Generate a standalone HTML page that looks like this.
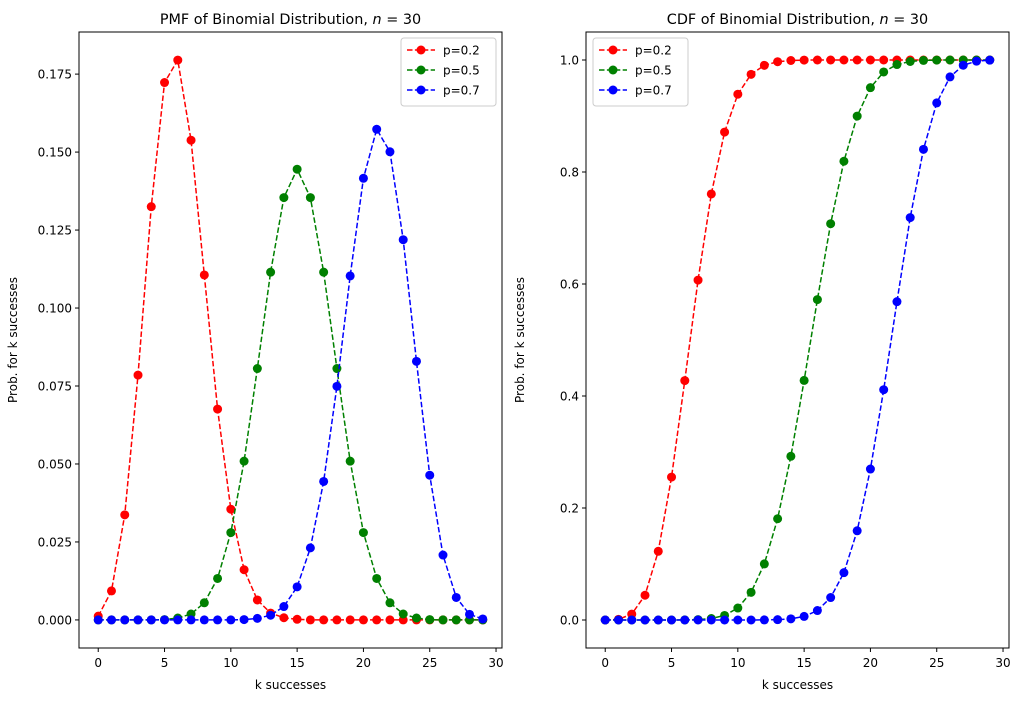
<!DOCTYPE html>
<html><head><meta charset="utf-8"><style>
body{margin:0;background:#fff;font-family:"Liberation Sans","DejaVu Sans",sans-serif;}
svg text{font-family:"DejaVu Sans","Liberation Sans",sans-serif;}
</style></head><body>
<svg id="chart" width="1022" height="701" xmlns="http://www.w3.org/2000/svg"></svg>
<script>
const ks=[0,1,2,3,4,5,6,7,8,9,10,11,12,13,14,15,16,17,18,19,20,21,22,23,24,25,26,27,28,29];
const pmf02=[0.0012,0.0093,0.0337,0.0785,0.1325,0.1723,0.1795,0.1538,0.1106,0.0676,0.0355,0.0161,0.0064,0.0022,0.0007,0.0002,0,0,0,0,0,0,0,0,0,0,0,0,0,0];
const pmf05=[0,0,0,0,0,0.0001,0.0006,0.0019,0.0055,0.0133,0.0280,0.0509,0.0806,0.1115,0.1354,0.1445,0.1354,0.1115,0.0806,0.0509,0.0280,0.0133,0.0055,0.0019,0.0006,0.0001,0,0,0,0];
const pmf07=[0,0,0,0,0,0,0,0,0,0,0,0.0001,0.0005,0.0015,0.0043,0.0106,0.0231,0.0444,0.0749,0.1103,0.1416,0.1573,0.1501,0.1219,0.0829,0.0464,0.0208,0.0072,0.0018,0.0003];
const cdf02=[0,0.0012,0.0106,0.0442,0.1227,0.2552,0.4275,0.6070,0.7608,0.8713,0.9389,0.9744,0.9905,0.9969,0.9991,0.9998,1,1,1,1,1,1,1,1,1,1,1,1,1,1];
const cdf05=[0,0,0,0,0,0,0.0002,0.0007,0.0026,0.0081,0.0214,0.0494,0.1002,0.1808,0.2923,0.4278,0.5722,0.7077,0.8192,0.8998,0.9506,0.9786,0.9919,0.9974,0.9993,0.9998,1,1,1,1];
const cdf07=[0,0,0,0,0,0,0,0,0,0,0,0,0.0002,0.0006,0.0021,0.0064,0.0169,0.0401,0.0845,0.1593,0.2696,0.4112,0.5685,0.7186,0.8405,0.9234,0.9698,0.9907,0.9979,0.9997];
const xTicks=[0,5,10,15,20,25,30];
const pmfTicks=[0,0.025,0.05,0.075,0.1,0.125,0.15,0.175];
const pmfTickLabels=["0.000","0.025","0.050","0.075","0.100","0.125","0.150","0.175"];
const cdfTicks=[0,0.2,0.4,0.6,0.8,1.0];
const cdfTickLabels=["0.0","0.2","0.4","0.6","0.8","1.0"];
const seriesLabels=["p=0.2","p=0.5","p=0.7"];
const colors=["#ff0000","#008000","#0000ff"];

const svg=document.getElementById('chart');
const NS="http://www.w3.org/2000/svg";
function mk(tag,attrs,parent){const e=document.createElementNS(NS,tag);for(const k in attrs)e.setAttribute(k,attrs[k]);(parent||svg).appendChild(e);return e;}

function panel(name,left,right,ymin,ymax,yTicks,yLabels,series,title,legendX,legendAnchorRight){
  const top=32,bottom=648;
  const g=mk('g',{});
  
  
  const xmin=-1.45,xmax=30.45;
  const X=v=>left+(v-xmin)/(xmax-xmin)*(right-left);
  const Y=v=>bottom-(v-ymin)/(ymax-ymin)*(bottom-top);
  // series
  series.forEach((s,i)=>{
    const pts=ks.map((k,j)=>X(k)+','+Y(s[j])).join(' ');
    const l=mk('polyline',{points:pts,fill:'none',stroke:colors[i],'stroke-width':1.5,'stroke-dasharray':'5.5,2.4'},g);
    
    
    ks.forEach((k,j)=>{
      const c=mk('circle',{cx:X(k),cy:Y(s[j]),r:4.5,fill:colors[i]},g);
      
      
    });
  });
  const fr=mk('rect',{x:left,y:top,width:right-left,height:bottom-top,fill:'none',stroke:'#000','stroke-width':1},g);
  
  
  xTicks.forEach(t=>{
    mk('line',{x1:X(t),x2:X(t),y1:bottom,y2:bottom+4,stroke:'#000'},g);
    const tx=mk('text',{x:X(t),y:bottom+19,'text-anchor':'middle','font-size':12},g);
    tx.textContent=t;
    
    
  });
  yTicks.forEach((t,i)=>{
    mk('line',{x1:left-4,x2:left,y1:Y(t),y2:Y(t),stroke:'#000'},g);
    const tx=mk('text',{x:left-7,y:Y(t)+4.5,'text-anchor':'end','font-size':12},g);
    tx.textContent=yLabels[i];
    
    
  });
  const xt=mk('text',{x:(left+right)/2,y:689,'text-anchor':'middle','font-size':12},g);
  xt.textContent='k successes';
  
  
  const yt=mk('text',{x:0,y:0,'text-anchor':'middle','font-size':12,transform:`translate(${left-62},${(top+bottom)/2}) rotate(-90)`},g);
  yt.textContent='Prob. for k successes';
  
  
  const tt=mk('text',{x:(left+right)/2,y:24,'text-anchor':'middle','font-size':14.4},g);
  tt.innerHTML=title+', <tspan font-style="italic">n</tspan> = 30';
  
  
  // legend
  const lw=95,lh=68,lx=legendX,ly=38;
  const lg=mk('g',{},g);
  
  
  mk('rect',{x:lx,y:ly,width:lw,height:lh,rx:3,fill:'#fff','fill-opacity':0.8,stroke:'#ccc'},lg);
  seriesLabels.forEach((s,i)=>{
    const yy=ly+12+i*20;
    const e=mk('g',{},lg);
    
    
    mk('line',{x1:lx+6,x2:lx+34,y1:yy,y2:yy,stroke:colors[i],'stroke-width':1.5,'stroke-dasharray':'5.5,2.4'},e);
    mk('circle',{cx:lx+20,cy:yy,r:4.5,fill:colors[i]},e);
    const t=mk('text',{x:lx+42,y:yy+4.5,'font-size':12},e);
    t.textContent=s;
  });
}
panel('pmf-panel',79,502,-0.009,0.1885,pmfTicks,pmfTickLabels,[pmf02,pmf05,pmf07],'PMF of Binomial Distribution',401);
panel('cdf-panel',586,1009,-0.05,1.05,cdfTicks,cdfTickLabels,[cdf02,cdf05,cdf07],'CDF of Binomial Distribution',593);
</script>
</body></html>
